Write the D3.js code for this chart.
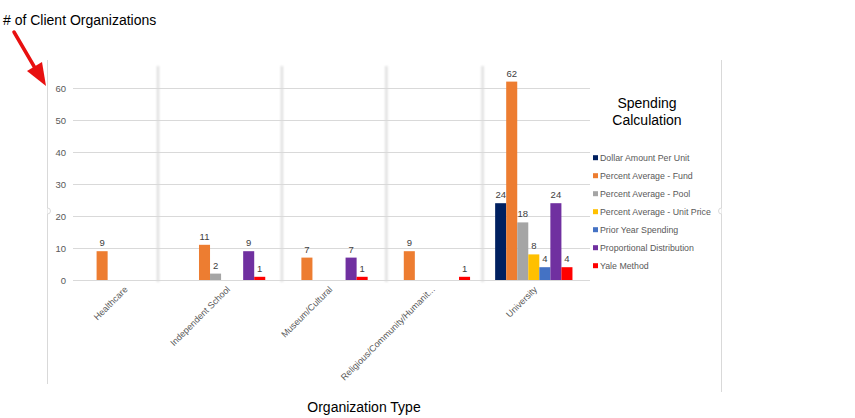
<!DOCTYPE html>
<html>
<head>
<meta charset="utf-8">
<script src="https://cdn.jsdelivr.net/npm/d3@7"></script>
<style>
body { margin: 0; background: #fff; }
text { font-family: "Liberation Sans", Arial, sans-serif; }
.tick-y { font-size: 9.5px; fill: #595959; }
.xlab { font-size: 9px; fill: #595959; }
.val { font-size: 9.5px; fill: #404040; }
.leg { font-size: 8.8px; fill: #595959; }
</style>
</head>
<body>
<svg width="855" height="418"></svg>
<script>
// categories and series
var categories = ["Healthcare", "Independent School", "Museum/Cultural", "Religious/Community/Humanit...", "University"];
var series = ["Dollar Amount Per Unit", "Percent Average - Fund", "Percent Average - Pool",
  "Percent Average - Unit Price", "Prior Year Spending", "Proportional Distribution", "Yale Method"];
var colors = ["#002060", "#ED7D31", "#A5A5A5", "#FFC000", "#4472C4", "#7030A0", "#FF0000"];

// values per series, one per category (null = no bar)
var dollarPerUnit   = [null, null, null, null, 24];
var pctFund         = [9, 11, 7, 9, 62];
var pctPool         = [null, 2, null, null, 18];
var pctUnitPrice    = [null, null, null, null, 8];
var priorYear       = [null, null, null, null, 4];
var proportional    = [null, 9, 7, null, 24];
var yale            = [null, 1, 1, 1, 4];
var values = [dollarPerUnit, pctFund, pctPool, pctUnitPrice, priorYear, proportional, yale];

var yTicks = [0, 10, 20, 30, 40, 50, 60];
// the faint vertical dividers, in category-step units
var dividers = [0.83, 2.04, 3.06, 4.0];

var svg = d3.select("svg");

var x0 = d3.scaleBand().domain(categories).range([73, 585]).paddingInner(0.245).paddingOuter(0.1225);
var x1 = d3.scaleBand().domain(series).range([0, x0.bandwidth()]);
var y = d3.scaleLinear().domain([0, 60]).range([280, 88]);
var step = d3.scaleLinear().domain([0, categories.length]).range([73, 585]);

// chart frame lines
svg.append("line").attr("x1", 47.5).attr("x2", 47.5).attr("y1", 60).attr("y2", 384)
  .attr("stroke", "#d9d9d9");
svg.append("line").attr("x1", 721.5).attr("x2", 721.5).attr("y1", 60).attr("y2", 392)
  .attr("stroke", "#d9d9d9");
[47.5, 721.5].forEach(function(fx, i) {
  svg.append("path")
    .attr("d", i === 0 ? "M" + fx + ",208 q3,0 3,3 q0,3 -3,3" : "M" + fx + ",208 q-3,0 -3,3 q0,3 3,3")
    .attr("fill", "#fff").attr("stroke", "#d0d0d0").attr("stroke-width", 0.8);
});

// blurry dividers
var defs = svg.append("defs");
defs.append("filter").attr("id", "blur")
  .attr("x", "-200%").attr("y", "-10%").attr("width", "500%").attr("height", "120%")
  .append("feGaussianBlur").attr("stdDeviation", 0.8);
svg.append("g").selectAll("rect").data(dividers).enter().append("rect")
  .attr("x", function(d) { return step(d) - 1.2; })
  .attr("width", 2.4)
  .attr("y", 66).attr("height", 216)
  .attr("fill", "#dedede").attr("filter", "url(#blur)");

// gridlines
svg.append("g").selectAll("line").data(yTicks).enter().append("line")
  .attr("x1", 73).attr("x2", 590)
  .attr("y1", function(d) { return Math.round(y(d)) + 0.5; })
  .attr("y2", function(d) { return Math.round(y(d)) + 0.5; })
  .attr("stroke", "#d9d9d9");

// y tick labels
svg.append("g").selectAll("text").data(yTicks).enter().append("text")
  .attr("class", "tick-y")
  .attr("x", 66).attr("y", function(d) { return y(d) + 3.5; })
  .attr("text-anchor", "end")
  .text(function(d) { return d; });

// bars
var rows = [];
categories.forEach(function(c, ci) {
  series.forEach(function(s, si) {
    var v = values[si][ci];
    if (v !== null) rows.push({ cat: c, ser: s, v: v, color: colors[si] });
  });
});

var g = svg.append("g");
g.selectAll("rect").data(rows).enter().append("rect")
  .attr("x", function(d) { return x0(d.cat) + x1(d.ser); })
  .attr("y", function(d) { return y(d.v); })
  .attr("width", x1.bandwidth())
  .attr("height", function(d) { return y(0) - y(d.v); })
  .attr("fill", function(d) { return d.color; });

g.selectAll("text").data(rows).enter().append("text")
  .attr("class", "val")
  .attr("x", function(d) { return x0(d.cat) + x1(d.ser) + x1.bandwidth() / 2; })
  .attr("y", function(d) { return y(d.v) - 5; })
  .attr("text-anchor", "middle")
  .text(function(d) { return d.v; });

// x labels
svg.append("g").selectAll("text").data(categories).enter().append("text")
  .attr("class", "xlab")
  .attr("text-anchor", "end")
  .attr("transform", function(d) {
    return "translate(" + (x0(d) + x0.bandwidth() / 2 + 4) + ",290) rotate(-45)";
  })
  .text(function(d) { return d; });

// legend
var lg = svg.append("g");
lg.append("text").attr("x", 647).attr("y", 108).attr("text-anchor", "middle")
  .attr("font-size", 14).attr("fill", "#000").text("Spending");
lg.append("text").attr("x", 647).attr("y", 125).attr("text-anchor", "middle")
  .attr("font-size", 14).attr("fill", "#000").text("Calculation");
var items = lg.selectAll("g.item").data(series).enter().append("g").attr("class", "item")
  .attr("transform", function(d, i) { return "translate(593," + (157.7 + i * 18) + ")"; });
items.append("rect").attr("x", 0).attr("y", -2.5).attr("width", 5).attr("height", 5)
  .attr("fill", function(d, i) { return colors[i]; });
items.append("text").attr("class", "leg").attr("x", 7).attr("y", 3.2).text(function(d) { return d; });

// titles
svg.append("text").attr("x", 3).attr("y", 25).attr("font-size", 14).attr("fill", "#000")
  .text("# of Client Organizations");
svg.append("text").attr("x", 364).attr("y", 412).attr("text-anchor", "middle")
  .attr("font-size", 14).attr("fill", "#000").text("Organization Type");

// red arrow
svg.append("line").attr("x1", 14).attr("y1", 32).attr("x2", 35).attr("y2", 68)
  .attr("stroke", "#E81010").attr("stroke-width", 3.5).attr("stroke-linecap", "round");
svg.append("path").attr("d", "M27,71 L46,86 L42,62 Z").attr("fill", "#E81010");
</script>
</body>
</html>
